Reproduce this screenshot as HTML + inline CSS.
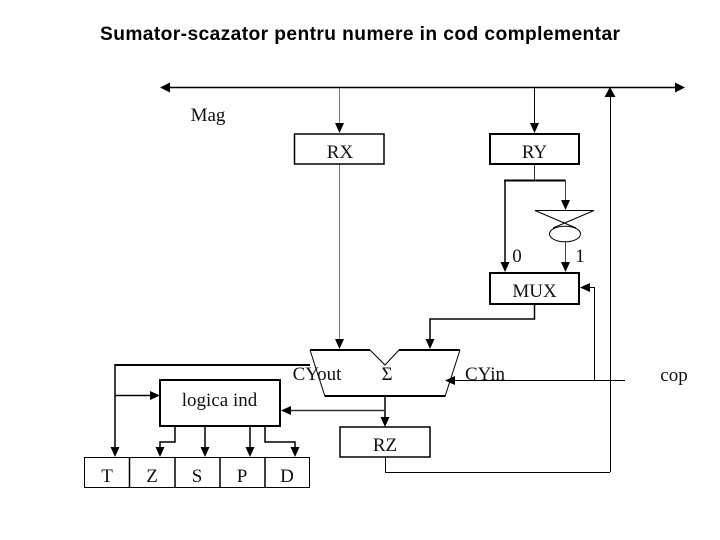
<!DOCTYPE html>
<html><head><meta charset="utf-8"><style>
html,body{margin:0;padding:0;background:#fff}
svg{display:block}
.s{font-family:"Liberation Serif",serif;font-size:19px;fill:#111;text-anchor:middle}
</style></head><body>
<svg width="720" height="540" viewBox="0 0 720 540" xmlns="http://www.w3.org/2000/svg">
<text x="360" y="40" font-family="Liberation Sans, sans-serif" font-size="19.2" font-weight="bold" fill="#000" text-anchor="middle" textLength="520">Sumator-scazator pentru numere in cod complementar</text>
<g fill="none" stroke="#000" stroke-width="1">
<path d="M165 87.500H680" stroke-width="1.500"/>
<path d="M339.500 88V126M339.500 164V340" stroke="#777"/>
<path d="M534.500 88V126"/>
<path d="M534.500 164V180" stroke="#333"/>
<path d="M505 181V264" stroke-width="1.500"/>
<path d="M504 180.500H565.500" stroke-width="2"/>
<path d="M565.500 180V202" stroke="#444"/>
<path d="M565.500 242V264" stroke="#444"/>
<path d="M535 210.500H594L553 228M535 210.500L576 228"/>
<ellipse cx="565" cy="234" rx="15.500" ry="7.800"/>
<path d="M534.500 304V319H430V340" stroke-width="1.500"/>
<path d="M310 350L325 396.500H445L460 350"/>
<path d="M310 350H370M399 350H460M325 396H445" stroke-width="2"/>
<path d="M370 350L385 365L399 350"/>
<path d="M385 396V420" stroke-width="1.500"/>
<path d="M385 410.500H290" stroke-width="1.500" stroke="#333"/>
<path d="M310 365H115" stroke-width="2"/>
<path d="M115 364V450" stroke-width="1.500"/>
<path d="M115 395.500H152" stroke-width="1.500"/>
<path d="M452 380.500H625"/>
<path d="M594.500 380V287.500H588"/>
<path d="M610.500 472V95"/>
<path d="M385.500 457V472.500H610"/>
<path d="M175 427V442H160V450M205 427V450M250 427V450M265 427V442H295V450" stroke-width="1.500"/>
<rect x="294.500" y="134" width="89.500" height="30" stroke-width="1.500"/>
<rect x="490" y="134" width="89" height="30" stroke-width="2"/>
<rect x="490" y="273" width="89" height="31" stroke-width="2"/>
<rect x="340" y="427" width="90" height="30" stroke-width="1.500"/>
<rect x="160" y="380" width="120" height="46" stroke-width="2"/>
<rect x="84.500" y="457.500" width="225" height="30"/>
<path d="M129.500 457V488M175 457V488M220 457V488M265 457V488" stroke-width="1.500"/>
</g>
<g fill="#000">
<path d="M160 87.500L170 82.500V92.500Z"/>
<path d="M685 87.500L675 82.500V92.500Z"/>
<path d="M610 87L604.500 97H615.500Z"/>
<path d="M339.500 133L335 123H344Z"/>
<path d="M534.500 133L530 123H539Z"/>
<path d="M565.500 210L561 200H570Z"/>
<path d="M505 272L500.500 262H509.500Z"/>
<path d="M565.500 272L561 262H570Z"/>
<path d="M339.500 349L335 339H344Z"/>
<path d="M430 349L425.500 339H434.500Z"/>
<path d="M385 427L380.500 417H389.500Z"/>
<path d="M580 287.500L590 283V292Z"/>
<path d="M445 380.500L455 376V385Z"/>
<path d="M281 410.500L291 406V415Z"/>
<path d="M160 395.500L150 391V400Z"/>
<path d="M115 457L110.500 447H119.500Z"/>
<path d="M160 457L155.500 447H164.500Z"/>
<path d="M205 457L200.500 447H209.500Z"/>
<path d="M250 457L245.500 447H254.500Z"/>
<path d="M295 457L290.500 447H299.500Z"/>
</g>
<text class="s" x="208" y="121">Mag</text>
<text class="s" x="340" y="158">RX</text>
<text class="s" x="534.500" y="158">RY</text>
<text class="s" x="517" y="262">0</text>
<text class="s" x="580" y="262">1</text>
<text class="s" x="534.500" y="297">MUX</text>
<text class="s" x="317" y="380">CYout</text>
<text class="s" x="485" y="380">CYin</text>
<text class="s" x="387" y="380">Σ</text>
<text class="s" x="674" y="381">cop</text>
<text class="s" x="219.500" y="406">logica ind</text>
<text class="s" x="385" y="451">RZ</text>
<text class="s" x="107" y="482">T</text>
<text class="s" x="152" y="482">Z</text>
<text class="s" x="197" y="482">S</text>
<text class="s" x="242" y="482">P</text>
<text class="s" x="287" y="482">D</text>
</svg>
</body></html>
